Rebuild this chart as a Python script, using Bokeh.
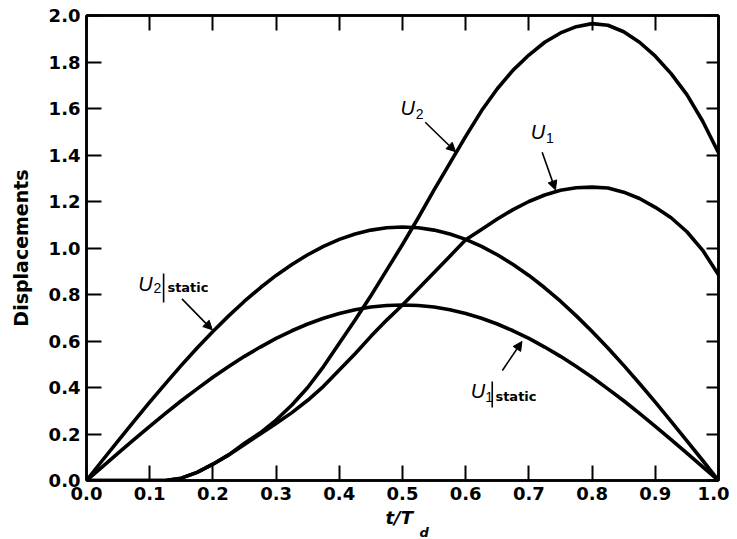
from bokeh.plotting import figure
from bokeh.models import (Range1d, LinearAxis, FixedTicker, NumeralTickFormatter,
                          Label, Arrow, NormalHead, Title)
from bokeh.embed import file_html
from bokeh.resources import INLINE

# ---- data ----
t = [0.0, 0.025, 0.05, 0.075, 0.1, 0.125, 0.15, 0.175, 0.2, 0.225, 0.25,
     0.275, 0.3, 0.325, 0.35, 0.375, 0.4, 0.425, 0.45, 0.475, 0.5,
     0.525, 0.55, 0.575, 0.6, 0.625, 0.65, 0.675, 0.7, 0.725, 0.75,
     0.775, 0.8, 0.825, 0.85, 0.875, 0.9, 0.925, 0.95, 0.975, 1.0]
u2 = [0.0, 0.0, 0.0, 0.0, 0.0, 0.0, 0.01, 0.035, 0.07, 0.11, 0.16,
      0.205, 0.26, 0.325, 0.40, 0.49, 0.59, 0.69, 0.795, 0.905, 1.015,
      1.13, 1.25, 1.365, 1.48, 1.59, 1.685, 1.765, 1.83, 1.885, 1.925,
      1.952, 1.965, 1.958, 1.93, 1.885, 1.825, 1.75, 1.66, 1.545, 1.41]
u1 = [0.0, 0.0, 0.0, 0.0, 0.0, 0.0, 0.01, 0.035, 0.07, 0.11, 0.155,
      0.20, 0.245, 0.292, 0.345, 0.405, 0.475, 0.545, 0.62, 0.69, 0.755,
      0.825, 0.895, 0.965, 1.035, 1.08, 1.125, 1.165, 1.20, 1.228, 1.248,
      1.259, 1.262, 1.258, 1.24, 1.213, 1.175, 1.13, 1.07, 0.99, 0.885]
u2_static = [0.0, 0.086, 0.170, 0.254, 0.337, 0.417, 0.495, 0.570, 0.641, 0.708, 0.771,
             0.829, 0.882, 0.929, 0.971, 1.007, 1.037, 1.060, 1.077, 1.087, 1.09,
             1.087, 1.077, 1.060, 1.037, 1.007, 0.971, 0.929, 0.882, 0.829, 0.771,
             0.708, 0.641, 0.570, 0.495, 0.417, 0.337, 0.254, 0.170, 0.086, 0.0]
u1_static = [0.0, 0.059, 0.118, 0.176, 0.233, 0.289, 0.343, 0.394, 0.444, 0.490, 0.534,
             0.574, 0.611, 0.644, 0.673, 0.698, 0.718, 0.734, 0.746, 0.753, 0.755,
             0.753, 0.746, 0.734, 0.718, 0.698, 0.673, 0.644, 0.611, 0.574, 0.534,
             0.490, 0.444, 0.394, 0.343, 0.289, 0.233, 0.176, 0.118, 0.059, 0.0]
x_ticks = [0.0, 0.1, 0.2, 0.3, 0.4, 0.5, 0.6, 0.7, 0.8, 0.9, 1.0]
y_ticks = [0.0, 0.2, 0.4, 0.6, 0.8, 1.0, 1.2, 1.4, 1.6, 1.8, 2.0]

TICK_FONT = "DejaVu Sans"
LBL_FONT = "Liberation Sans"

p = figure(width=729, height=538, output_backend="svg", toolbar_location=None,
           x_range=Range1d(0, 1), y_range=Range1d(0, 2),
           x_axis_location=None, y_axis_location=None,
           min_border_left=86, min_border_right=11, min_border_top=15,
           min_border_bottom=58)
p.grid.visible = False
p.background_fill_color = "white"
p.border_fill_color = "white"
p.outline_line_color = "black"
p.outline_line_width = 2.5


def style_axis(ax, ticks, show_labels, tick_in):
    ax.ticker = FixedTicker(ticks=ticks)
    ax.formatter = NumeralTickFormatter(format="0.0")
    ax.axis_line_color = "black"
    ax.axis_line_width = 2.5
    ax.major_tick_line_color = "black"
    ax.major_tick_line_width = 2
    ax.major_tick_in = tick_in
    ax.major_tick_out = 0
    ax.minor_tick_line_color = None
    if show_labels:
        ax.major_label_text_font = TICK_FONT
        ax.major_label_text_font_style = "bold"
        ax.major_label_text_font_size = "18px"
        ax.major_label_text_color = "black"
        ax.major_label_standoff = 6
    else:
        ax.major_label_text_font_size = "0px"
        ax.major_label_text_color = None
        ax.major_label_standoff = 0


left = LinearAxis()
style_axis(left, y_ticks, True, 15)
left.axis_label = "Displacements"
left.axis_label_text_font = TICK_FONT
left.axis_label_text_font_style = "bold"
left.axis_label_text_font_size = "19px"
left.axis_label_text_color = "black"
left.axis_label_standoff = 14
p.add_layout(left, "left")

below = LinearAxis()
style_axis(below, x_ticks, True, 15)
p.add_layout(below, "below")

right = LinearAxis()
style_axis(right, y_ticks, False, 12)
p.add_layout(right, "right")

above = LinearAxis()
style_axis(above, x_ticks, False, 15)
p.add_layout(above, "above")

for ys in (u2, u1, u2_static, u1_static):
    p.line(t, ys, line_color="black", line_width=3.6, line_join="round", line_cap="round")


def add_label(x, y, text, size, style, font=LBL_FONT):
    p.add_layout(Label(x=x, y=y, text=text,
                       text_font=font, text_font_size=size, text_font_style=style,
                       text_color="black", text_align="left", text_baseline="middle"))


def add_arrow(x0, y0, x1, y1, head=True):
    p.add_layout(Arrow(end=NormalHead(size=9, fill_color="black", line_color="black",
                                      line_width=1) if head else None,
                       x_start=x0, y_start=y0, x_end=x1, y_end=y1,
                       line_color="black", line_width=1.6))


# U2
add_label(0.497, 1.602, "U", "20px", "italic")
add_label(0.521, 1.575, "2", "14px", "normal")
add_arrow(0.536, 1.541, 0.584, 1.414)
# U1
add_label(0.703, 1.501, "U", "20px", "italic")
add_label(0.727, 1.472, "1", "14px", "normal")
add_arrow(0.721, 1.412, 0.742, 1.250)
# U2|static
add_label(0.082, 0.847, "U", "20px", "italic")
add_label(0.106, 0.828, "2", "14px", "normal")
add_arrow(0.122, 0.890, 0.122, 0.766, head=False)
add_label(0.128, 0.830, "static", "13px", "bold", font=TICK_FONT)
add_arrow(0.151, 0.781, 0.199, 0.648)
# U1|static
add_label(0.608, 0.387, "U", "20px", "italic")
add_label(0.631, 0.360, "1", "14px", "normal")
add_arrow(0.642, 0.426, 0.642, 0.314, head=False)
add_label(0.647, 0.361, "static", "13px", "bold", font=TICK_FONT)
add_arrow(0.658, 0.473, 0.689, 0.598)

# x axis label t/T_d as titles in the bottom panel
p.add_layout(Title(text="t/T", align="left", offset=299, standoff=5,
                   text_font=TICK_FONT, text_font_size="18px",
                   text_font_style="bold italic", text_color="black"), "below")
p.add_layout(Title(text="d", align="left", offset=333, standoff=-18,
                   text_font=TICK_FONT, text_font_size="13px",
                   text_font_style="bold italic", text_color="black"), "below")

open("out.html", "w").write(file_html(p, INLINE))
